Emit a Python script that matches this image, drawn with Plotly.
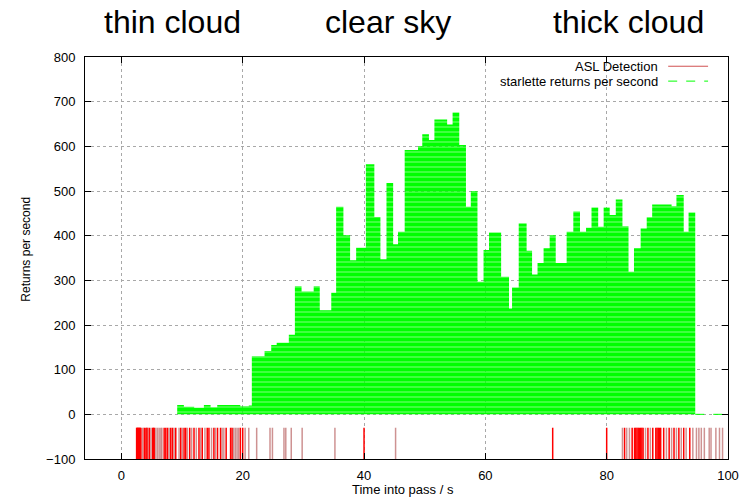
import plotly.graph_objects as go

# --- data -------------------------------------------------------------
# start time (s) of each constant step of the starlette return rate
step_start = [9.2, 10.3, 12.0, 13.6, 14.7, 15.8, 19.6, 21.0, 21.5, 23.6,
              24.7, 25.6, 27.6, 28.6, 29.7, 31.7, 32.7, 34.6, 35.4, 36.6,
              37.7, 38.7, 40.3, 41.7, 42.7, 43.7, 44.8, 45.6, 46.7, 48.9,
              49.6, 50.7, 51.6, 53.7, 54.6, 55.7, 56.8, 57.6, 58.7, 59.7,
              60.6, 62.6, 63.9, 64.4, 65.5, 66.8, 67.7, 68.6, 69.6, 70.6,
              71.6, 73.4, 74.5, 75.6, 76.6, 77.5, 78.6, 79.5, 80.5, 81.5,
              82.6, 83.6, 84.5, 85.6, 86.6, 87.5, 90.7, 91.5, 92.7, 93.5,
              94.6]
returns = [21, 17, 15, 21, 16, 21, 18, 20, 130, 142,
           155, 160, 178, 287, 275, 287, 233, 272, 465, 401,
           345, 373, 560, 442, 347, 518, 381, 409, 592, 601,
           627, 614, 660, 649, 676, 603, 465, 500, 297, 368,
           407, 308, 237, 284, 427, 366, 313, 339, 372, 401,
           339, 409, 454, 409, 418, 463, 420, 463, 446, 481,
           421, 319, 372, 416, 441, 470, 466, 491, 409, 452,
           0]
pass_end = 100

# ASL detection times (s)
asl_strong = [2.51, 2.6, 2.7, 2.8, 2.9, 3.0, 3.1, 3.22, 3.77, 4.04, 4.21,
              4.59, 5.14, 5.3, 5.41, 7.05, 7.32, 7.6, 8.14, 8.42, 8.96, 9.78,
              10.33, 10.6, 11.26, 11.97, 12.79, 13.33, 14.15, 14.43, 15.25,
              15.85, 16.34, 17.27, 18.0, 18.25, 19.62, 20.0, 40.0, 71.1, 80.0,
              82.95, 84.2, 84.6, 84.8, 85.0, 85.2, 85.4, 85.6, 85.8, 86.0,
              86.8, 87.6, 88.1, 88.3, 88.5, 88.7, 88.9, 89.4, 90.3, 91.1,
              91.9, 92.7, 93.7]
asl_faint = [3.5, 4.32, 4.86, 5.68, 5.96, 6.23, 6.5, 6.67, 7.87, 8.69, 9.51,
             10.05, 10.87, 11.58, 12.35, 13.06, 13.77, 14.86, 15.52, 16.61,
             16.89, 18.52, 18.8, 19.07, 19.34, 20.4, 21.0, 22.3, 24.5, 24.9,
             26.8, 27.1, 28.0, 29.8, 35.2, 45.2, 82.6, 83.3, 83.75, 86.4,
             87.2, 89.85, 90.7, 91.5, 92.3, 93.1, 94.2, 94.8, 95.2, 95.6,
             96.1, 96.9, 97.2, 98.0, 98.6, 99.1]
asl_low, asl_high = -100, -30

x_ticks = [0, 20, 40, 60, 80, 100]
y_ticks = [-100, 0, 100, 200, 300, 400, 500, 600, 700, 800]
region_labels = ["thin cloud", "clear sky", "thick cloud"]

FONT = "Liberation Sans, Arial, sans-serif"
GREEN = "#00ff00"


def impulses(times, lo, hi):
    xs, ys = [], []
    for t in times:
        xs += [t, t, None]
        ys += [lo, hi, None]
    return xs, ys


fig = go.Figure()

# starlette returns: step fill with horizontal stripes
fig.add_trace(go.Scatter(
    x=step_start + [pass_end], y=returns + [returns[-1]],
    mode="lines", line=dict(width=0, shape="hv", color=GREEN),
    fill="tozeroy", fillcolor=GREEN,
    fillpattern=dict(shape="-", fgcolor=GREEN, fgopacity=1,
                     bgcolor="rgba(255,255,255,0)", fillmode="replace",
                     size=5, solidity=0.9),
    showlegend=False, hoverinfo="skip"))
# dashed tail at zero
fig.add_trace(go.Scatter(
    x=[step_start[-1], pass_end], y=[returns[-1], returns[-1]],
    mode="lines", line=dict(color=GREEN, width=1, dash="dash"),
    showlegend=False, hoverinfo="skip"))

fx, fy = impulses(asl_faint, asl_low, asl_high)
fig.add_trace(go.Scatter(x=fx, y=fy, mode="lines",
                         line=dict(color="rgba(190,110,110,0.75)", width=1.5),
                         showlegend=False, hoverinfo="skip"))
sx, sy = impulses(asl_strong, asl_low, asl_high)
fig.add_trace(go.Scatter(x=sx, y=sy, mode="lines",
                         line=dict(color="#ff0000", width=1.5),
                         showlegend=False, hoverinfo="skip"))

axis_common = dict(
    showline=True, linecolor="black", linewidth=1, mirror="ticks",
    ticks="inside", ticklen=6, tickcolor="black", tickwidth=1,
    showgrid=True, gridcolor="#a8a8a8", griddash="dot", gridwidth=1,
    zeroline=False, tickfont=dict(family=FONT, size=13, color="black"),
)

fig.update_xaxes(range=[-6, 100], tickvals=x_ticks, ticklabelstandoff=4,
                 **axis_common)
fig.update_yaxes(range=[-100, 800], tickvals=y_ticks, ticklabelstandoff=6,
                 **axis_common)

annotations = []
for label, px in zip(region_labels, [0.136, 0.471, 0.845]):
    annotations.append(dict(text=label, x=px, y=1.087, xref="paper",
                            yref="paper", showarrow=False, xanchor="center",
                            yanchor="middle",
                            font=dict(family=FONT, size=32, color="black")))
annotations.append(dict(text="Time into pass / s", x=0.495, y=-0.077,
                        xref="paper", yref="paper", showarrow=False,
                        xanchor="center", yanchor="middle",
                        font=dict(family=FONT, size=13, color="black")))
annotations.append(dict(text="Returns per second", x=-0.091, y=0.522,
                        xref="paper", yref="paper", showarrow=False,
                        textangle=-90, xanchor="center", yanchor="middle",
                        font=dict(family=FONT, size=12, color="black")))
# gnuplot-style key
annotations.append(dict(text="ASL Detection", x=0.895, y=0.977,
                        xref="paper", yref="paper", showarrow=False,
                        xanchor="right", yanchor="middle",
                        font=dict(family=FONT, size=13, color="black")))
annotations.append(dict(text="starlette returns per second", x=0.895, y=0.94,
                        xref="paper", yref="paper", showarrow=False,
                        xanchor="right", yanchor="middle",
                        font=dict(family=FONT, size=13, color="black")))

shapes = [
    dict(type="line", xref="paper", yref="paper", x0=0.907, x1=0.969,
         y0=0.977, y1=0.977, line=dict(color="#d05050", width=1)),
    dict(type="line", xref="paper", yref="paper", x0=0.907, x1=0.969,
         y0=0.94, y1=0.94, line=dict(color=GREEN, width=1, dash="dash")),
]

fig.update_layout(
    width=751, height=498,
    margin=dict(l=85, r=19, t=57, b=39),
    paper_bgcolor="white", plot_bgcolor="white",
    annotations=annotations, shapes=shapes,
    showlegend=False,
    font=dict(family=FONT, color="black"),
)

fig.write_html("out.html")
